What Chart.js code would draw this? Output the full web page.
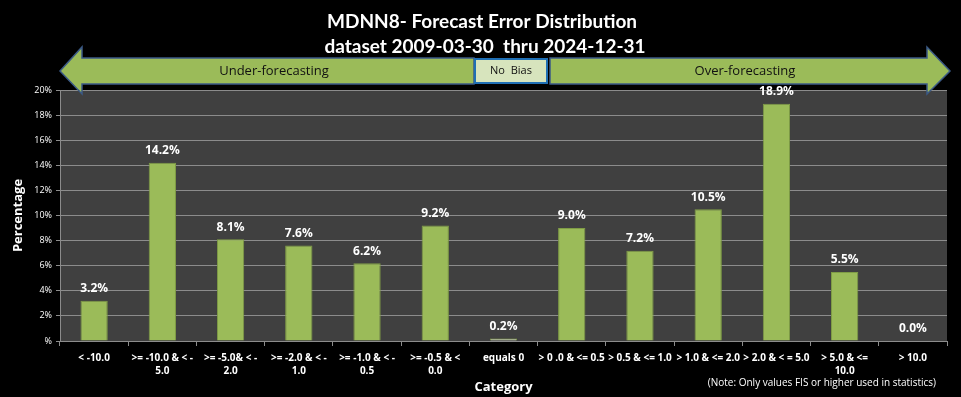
<!DOCTYPE html>
<html>
<head>
<meta charset="utf-8">
<script src="https://cdn.jsdelivr.net/npm/chart.js@4"></script>
<style>
  html, body { margin: 0; padding: 0; background: #000; }
  #wrap { width: 961px; height: 397px; }
</style>
</head>
<body>
<div id="wrap"><canvas id="chart" width="961" height="397"></canvas></div>
<script>
const titleLines = ['MDNN8- Forecast Error Distribution', 'dataset 2009-03-30  thru 2024-12-31'];
const categories = [
    '< -10.0',
    ['>= -10.0 & < -', '5.0'],
    ['>= -5.0& < -', '2.0'],
    ['>= -2.0 & < -', '1.0'],
    ['>= -1.0 & < -', '0.5'],
    ['>= -0.5 & <', '0.0'],
    'equals 0',
    '> 0 .0 & <= 0.5',
    '> 0.5 & <= 1.0',
    '> 1.0 & <= 2.0',
    '> 2.0 & < = 5.0',
    ['> 5.0 & <=', '10.0'],
    '> 10.0'
];
const percentages = [3.2, 14.2, 8.1, 7.6, 6.2, 9.2, 0.2, 9.0, 7.2, 10.5, 18.9, 5.5, 0.0];
const yTicks = [0, 2, 4, 6, 8, 10, 12, 14, 16, 18, 20];
const noteText = '(Note: Only values FIS or higher used in statistics)';

const FONT = '"Open Sans", "Noto Sans", sans-serif';
const TITLE_FONT = 'Lato, "Open Sans", sans-serif';

// black background, gray plot area
const backdrop = {
    id: 'backdrop',
    beforeDraw(chart) {
        const { ctx, chartArea: a } = chart;
        ctx.save();
        ctx.fillStyle = '#000';
        ctx.fillRect(0, 0, chart.width, chart.height);
        ctx.fillStyle = '#404040';
        ctx.fillRect(a.left, a.top, a.right - a.left, a.bottom - a.top);
        ctx.restore();
    }
};

// value labels above the bars
const barLabels = {
    id: 'barLabels',
    afterDatasetsDraw(chart) {
        const { ctx } = chart;
        const meta = chart.getDatasetMeta(0);
        ctx.save();
        ctx.font = 'bold 12px ' + FONT;
        ctx.fillStyle = '#fff';
        ctx.textAlign = 'center';
        ctx.textBaseline = 'bottom';
        meta.data.forEach((bar, i) => {
            ctx.fillText(percentages[i].toFixed(1) + '%', bar.x, bar.y - 6);
        });
        ctx.restore();
    }
};

// title, bias arrows, note
const overlay = {
    id: 'overlay',
    afterDraw(chart) {
        const { ctx } = chart;
        ctx.save();
        ctx.fillStyle = '#fff';
        ctx.textAlign = 'center';
        ctx.textBaseline = 'middle';
        ctx.font = 'bold 19px ' + TITLE_FONT;
        ctx.fillText(titleLines[0], 482, 22);
        ctx.fillText(titleLines[1], 485, 47);

        const bodyTop = 58, bodyBot = 84, headTop = 47, headBot = 94, mid = 71;
        ctx.lineWidth = 1.5;
        ctx.strokeStyle = '#3b5a86';
        ctx.fillStyle = '#9bbb59';

        ctx.beginPath();
        ctx.moveTo(60, mid);
        ctx.lineTo(82, headTop);
        ctx.lineTo(82, bodyTop);
        ctx.lineTo(474, bodyTop);
        ctx.lineTo(474, bodyBot);
        ctx.lineTo(82, bodyBot);
        ctx.lineTo(82, headBot);
        ctx.closePath();
        ctx.fill();
        ctx.stroke();

        ctx.beginPath();
        ctx.moveTo(550, bodyTop);
        ctx.lineTo(927, bodyTop);
        ctx.lineTo(927, headTop);
        ctx.lineTo(950, mid);
        ctx.lineTo(927, headBot);
        ctx.lineTo(927, bodyBot);
        ctx.lineTo(550, bodyBot);
        ctx.closePath();
        ctx.fill();
        ctx.stroke();

        ctx.fillStyle = '#d7e4bd';
        ctx.fillRect(475, 59, 72, 24);
        ctx.lineWidth = 2;
        ctx.strokeStyle = '#1f6fb4';
        ctx.strokeRect(475, 59, 72, 24);

        ctx.fillStyle = '#111';
        ctx.font = '13px ' + FONT;
        ctx.fillText('Under-forecasting', 274, 71);
        ctx.fillText('Over-forecasting', 745, 71);
        ctx.font = '11px ' + FONT;
        ctx.fillText('No  Bias', 511, 71);

        ctx.fillStyle = '#fff';
        ctx.font = '10px ' + FONT;
        ctx.textAlign = 'right';
        ctx.fillText(noteText, 936, 383);
        ctx.restore();
    }
};

new Chart(document.getElementById('chart'), {
    type: 'bar',
    data: {
        labels: categories,
        datasets: [{
            data: percentages,
            backgroundColor: percentages.map(v => v < 0.5 ? '#e6ecd2' : '#9bbb59'),
            borderColor: '#7f9c45',
            borderWidth: 1,
            barPercentage: 0.4,
            categoryPercentage: 1
        }]
    },
    options: {
        responsive: false,
        animation: false,
        layout: { padding: { top: 90, right: 14, left: 6, bottom: 0 } },
        plugins: {
            legend: { display: false },
            tooltip: { enabled: false }
        },
        scales: {
            x: {
                afterFit(scale) { scale.height = 56; },
                grid: {
                    display: true,
                    drawOnChartArea: false,
                    offset: true,
                    tickLength: 5,
                    color: '#8c8c8c'
                },
                border: { color: '#8c8c8c' },
                ticks: {
                    color: '#fff',
                    font: { family: FONT, size: 10, weight: 'bold', lineHeight: 1.35 },
                    maxRotation: 0,
                    autoSkip: false,
                    padding: 5
                },
                title: {
                    display: true,
                    text: 'Category',
                    color: '#fff',
                    font: { family: FONT, size: 13, weight: 'bold' },
                    padding: { top: 0, bottom: 2 }
                }
            },
            y: {
                min: 0,
                max: 20,
                afterFit(scale) { scale.width = 54; },
                afterBuildTicks(scale) { scale.ticks = yTicks.map(v => ({ value: v })); },
                grid: { color: '#8c8c8c', tickLength: 4, drawTicks: true },
                border: { color: '#8c8c8c' },
                ticks: {
                    color: '#fff',
                    font: { family: FONT, size: 9 },
                    padding: 4,
                    callback: v => v === 0 ? '%' : v + '%'
                },
                title: {
                    display: true,
                    text: 'Percentage',
                    color: '#fff',
                    font: { family: FONT, size: 13, weight: 'bold' },
                    padding: { top: 4, bottom: 0 }
                }
            }
        }
    },
    plugins: [backdrop, barLabels, overlay]
});
</script>
</body>
</html>
